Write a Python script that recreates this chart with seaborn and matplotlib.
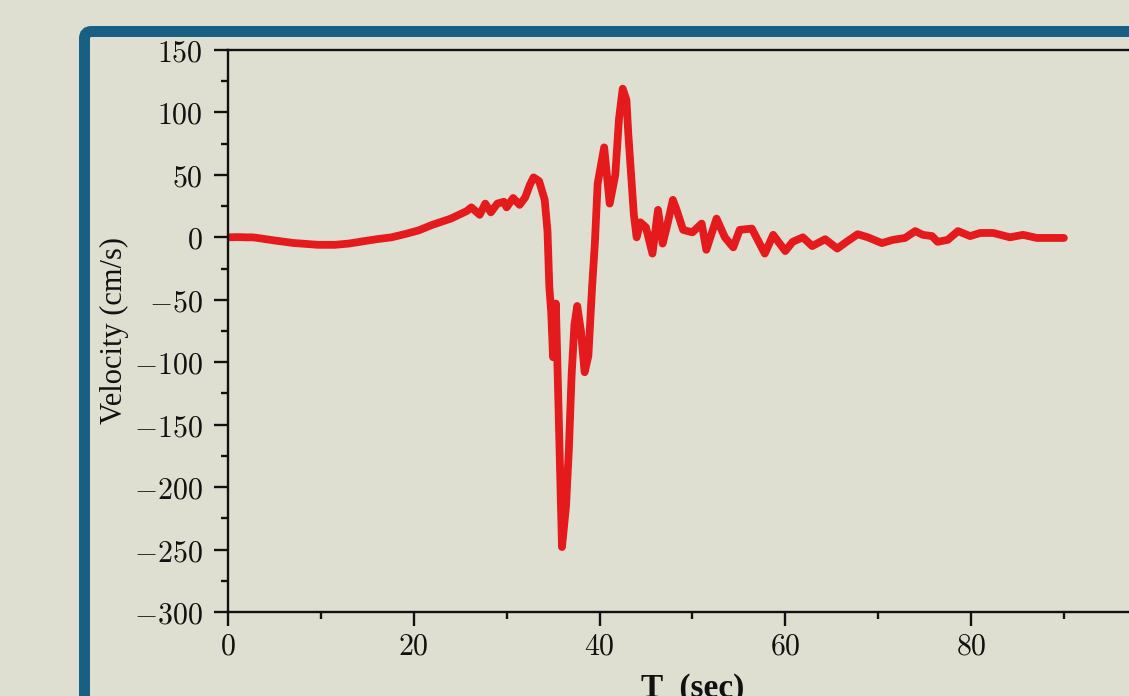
import matplotlib
matplotlib.use("Agg")
import matplotlib.pyplot as plt
from matplotlib.patches import FancyBboxPatch
from matplotlib.ticker import MultipleLocator
import numpy as np
import pandas as pd
import seaborn as sns

# Ground velocity time history (time in s, velocity in cm/s)
time_s = [0, 1, 2, 2.6, 3, 5, 7, 9.7, 11.5, 13, 14.7, 16, 17.6, 19, 20.5, 22, 24,
          25.7, 26.2, 27.1, 27.7, 28.3, 29, 29.7, 30, 30.7, 31.4, 32, 32.5, 32.9,
          33.5, 34.1, 34.4, 34.6, 34.8, 35.0, 35.3, 35.6, 35.96, 36.4, 36.7, 37.0,
          37.3, 37.6, 38.0, 38.4, 38.8, 39.2, 39.5, 39.8, 40.5, 41.1, 41.7, 42.1,
          42.5, 42.9, 43.1, 43.7, 44.0, 44.4, 45.0, 45.7, 46.3, 46.8, 47.3, 47.9,
          48.3, 49, 50, 51, 51.5, 52.6, 53.5, 54.4, 55.1, 56.4, 57.8, 58.7, 60,
          60.8, 61.9, 62.9, 64.3, 65.6, 66.6, 67.8, 68.9, 70.4, 71.6, 72.9, 74,
          74.8, 75.8, 76.4, 77.5, 78.6, 79.9, 81, 82.4, 84.2, 85.6, 87.1, 90]
velocity = [0, 0.2, 0, 0, -0.3, -2.5, -4.5, -6, -6, -5, -3, -1.5, 0, 2.5, 5.5, 10, 15,
            21, 24, 18, 27, 20, 27, 28.5, 24, 31.5, 26, 32, 42, 48,
            45, 30, 5, -40, -60, -96, -53, -140, -248, -215, -170, -110,
            -70, -55, -75, -108, -95, -40, -5, 43, 72, 27, 50, 95,
            119, 110, 83, 18, 0, 12, 8, -13, 22, -5, 10, 30,
            22, 6, 4, 11, -10, 15, 0, -8, 6, 7, -13, 2, -11,
            -3.6, 0, -7, -1.5, -9, -3.6, 2.5, 0, -4.6, -2, -0.5, 5,
            2, 1, -3.6, -2, 5, 1, 3.5, 3.5, 0, 2, -0.5, -0.5]

y_ticks = [150, 100, 50, 0, -50, -100, -150, -200, -250, -300]
x_ticks = [0, 20, 40, 60, 80]

BG = "#dfdfd1"
FRAME = "#176084"
RED = "#e41a1c"
INK = "#111111"

sns.set_theme(style="ticks")
plt.rcParams.update({
    "figure.facecolor": BG,
    "axes.facecolor": BG,
    "mathtext.fontset": "cm",
    "axes.linewidth": 1.7,
    "axes.edgecolor": INK,
})

fig = plt.figure(figsize=(11.29, 6.96), dpi=100)

# Rounded panel border
frame = FancyBboxPatch((0.845, -1.5), 12.0, 6.645 + 1.5,
                       boxstyle="round,pad=0,rounding_size=0.07",
                       transform=fig.dpi_scale_trans, facecolor="none",
                       edgecolor=FRAME, linewidth=7.9, zorder=0)
fig.patches.append(frame)

ax = fig.add_axes([228 / 1129, 84 / 696, 928.75 / 1129, 562 / 696])
ax.set_zorder(2)
ax.set_facecolor(BG)

df = pd.DataFrame({"T": time_s, "V": velocity})
sns.lineplot(data=df, x="T", y="V", ax=ax, color=RED, linewidth=5.6,
             estimator=None, sort=False)
for ln in ax.lines:
    ln.set_solid_joinstyle("round")
    ln.set_solid_capstyle("round")

ax.set_xlim(0, 100)
ax.set_ylim(-300, 150)
ax.spines["right"].set_visible(False)

ax.set_yticks(y_ticks)
ax.set_yticklabels([f"${v}$" for v in y_ticks], fontsize=21.5)
ax.set_xticks(x_ticks)
ax.set_xticklabels([f"${v}$" for v in x_ticks], fontsize=21.5)
ax.xaxis.set_minor_locator(MultipleLocator(10))
ax.yaxis.set_minor_locator(MultipleLocator(25))
ax.tick_params(axis="both", which="major", direction="out", length=10, width=1.7,
               colors=INK)
ax.tick_params(axis="x", which="major", pad=4)
ax.tick_params(axis="y", which="major", pad=8)
ax.tick_params(axis="both", which="minor", direction="out", length=5, width=1.7,
               colors=INK)

ax.set_ylabel("Velocity (cm/s)", family="Liberation Serif", fontsize=22,
              color=INK, labelpad=4)
ax.set_xlabel("T  (sec)", family="Liberation Serif", fontsize=24,
              fontweight="bold", color=INK, labelpad=9)

fig.savefig("out.png", dpi=100, facecolor=BG)
